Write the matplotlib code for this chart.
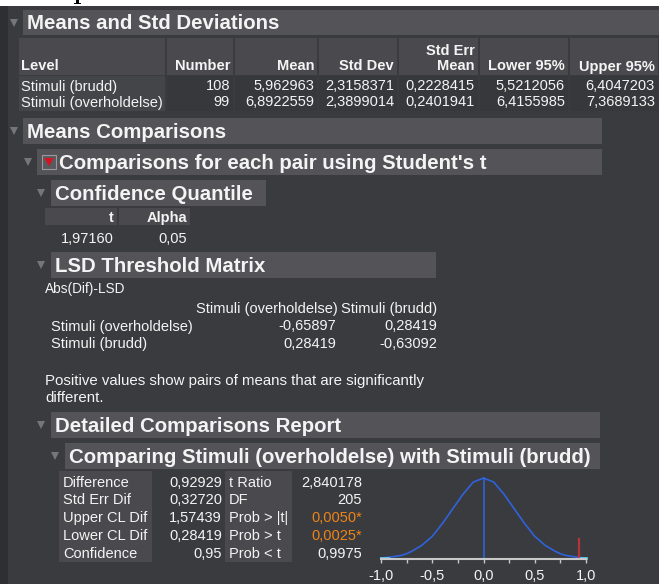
import matplotlib
matplotlib.use("Agg")
from matplotlib import pyplot as plt
from matplotlib.patches import Rectangle, Polygon

# ---- data ----
levels = ['Stimuli (brudd)', 'Stimuli (overholdelse)']
numbers = ['108', '99']
means = ['5,962963', '6,8922559']
std_devs = ['2,3158371', '2,3899014']
std_err_means = ['0,2228415', '0,2401941']
lower95 = ['5,5212056', '6,4155985']
upper95 = ['6,4047203', '7,3689133']

quantile_t = '1,97160'
alpha = '0,05'

lsd_levels = ['Stimuli (overholdelse)', 'Stimuli (brudd)']
lsd_matrix = [['-0,65897', '0,28419'],
              ['0,28419', '-0,63092']]

left_labels = ['Difference', 'Std Err Dif', 'Upper CL Dif', 'Lower CL Dif', 'Confidence']
left_values = ['0,92929', '0,32720', '1,57439', '0,28419', '0,95']
right_labels = ['t Ratio', 'DF', 'Prob > |t|', 'Prob > t', 'Prob < t']
right_values = ['2,840178', '205', '0,0050*', '0,0025*', '0,9975']
right_signif = [False, False, True, True, False]

difference = 0.92929
curve_x = [-1.0, -0.9, -0.8, -0.75, -0.7, -0.6, -0.5, -0.4, -0.3, -0.2, -0.1, 0.0,
           0.1, 0.2, 0.3, 0.4, 0.5, 0.6, 0.7, 0.75, 0.8, 0.9, 1.0]
curve_y = [0.01, 0.025, 0.045, 0.065, 0.095, 0.17, 0.28, 0.44, 0.62, 0.80, 0.95, 1.0,
           0.95, 0.80, 0.62, 0.44, 0.28, 0.17, 0.095, 0.065, 0.045, 0.025, 0.01]
diff_height = 0.25
tick_vals = [-1.0, -0.5, 0.0, 0.5, 1.0]
tick_labels = ['-1,0', '-0,5', '0,0', '0,5', '1,0']

# ---- colours ----
BG = '#3a3b3e'
STRIP = '#2e2f32'
BAR = '#545358'
HEAD = '#4a4a4e'
LABCELL = '#444549'
DATACELL = '#37383b'
WHITE = '#f4f4f4'
TRI = '#75767a'
ORANGE = '#ec8419'
FONT = 'Liberation Sans'
FS = 10.5      # body text
FS_H = 14.7    # outline headers

fig = plt.figure(figsize=(6.59, 5.84), dpi=100, facecolor=BG)
ax = fig.add_axes([0, 0, 1, 1])
ax.set_xlim(0, 659)
ax.set_ylim(584, 0)
ax.axis('off')


def rect(x0, y0, x1, y1, color):
    ax.add_patch(Rectangle((x0, y0), x1 - x0, y1 - y0, facecolor=color, edgecolor='none'))


def txt(x, y, s, size=FS, bold=False, ha='left', color=WHITE):
    ax.text(x, y, s, fontsize=size, fontweight='bold' if bold else 'normal',
            ha=ha, va='baseline', color=color, family=FONT)


def header(x0, x1, y0, y1, title, tri_x, text_x=None):
    rect(x0, y0, x1, y1, BAR)
    txt(text_x if text_x else x0 + 4, y1 - 6, title, size=FS_H, bold=True)
    ax.plot(tri_x, (y0 + y1) / 2, marker='v', markersize=5.5, color=TRI, markeredgewidth=0)


# white strip with the foot of a glyph from the page above
rect(0, 0, 659, 6, 'white')
ax.add_patch(Polygon([[76, 0], [79, 0], [79, 3], [81, 3], [81, 4.2], [73.5, 4.2], [73.5, 3], [76, 3]],
                     facecolor='black', edgecolor='none'))
rect(0, 6, 8, 584, STRIP)

# Means and Std Deviations
header(23, 659, 10, 35, 'Means and Std Deviations', 13.5)
col_edges = [18, 166, 234, 318, 398, 479, 569, 659]
for i in range(len(col_edges) - 1):
    rect(col_edges[i] + 1, 38, col_edges[i + 1] - 1, 75, HEAD)
    rect(col_edges[i] + 1, 76, col_edges[i + 1] - 1, 111, LABCELL if i == 0 else DATACELL)
txt(21, 70.5, 'Level', size=FS, bold=True)
col_heads = ['Number', 'Mean', 'Std Dev', 'Mean', 'Lower 95%', 'Upper 95%']
for i, h in enumerate(col_heads):
    txt(col_edges[i + 2] - 4, 70.5, h, size=FS, bold=True, ha='right')
txt(col_edges[5] - 4, 55, 'Std Err', size=FS, bold=True, ha='right')
cols = [numbers, means, std_devs, std_err_means, lower95, upper95]
for r, lev in enumerate(levels):
    yb = 90.5 + 16 * r
    txt(21, yb, lev)
    for i, c in enumerate(cols):
        txt(col_edges[i + 2] - 4, yb, c[r], ha='right')

# Means Comparisons
header(23, 602, 118, 144, 'Means Comparisons', 13.5)
header(37, 602, 149, 175, 'Comparisons for each pair using Student\'s t', 27.5, text_x=59)
ax.add_patch(Rectangle((42, 155), 14, 14, facecolor='#5a5a5e', edgecolor='#9a9a9e', linewidth=0.8))
ax.add_patch(Polygon([[44.5, 158], [53.5, 158], [49, 166]], facecolor='#d8121e', edgecolor='none'))

header(51, 266, 180, 206, 'Confidence Quantile', 41)
rect(45, 208, 117, 225, HEAD)
rect(119, 208, 190, 225, HEAD)
txt(114, 222, 't', bold=True, ha='right')
txt(187, 222, 'Alpha', bold=True, ha='right')
txt(114, 243, quantile_t, ha='right')
txt(187, 243, alpha, ha='right')

header(51, 436, 252, 278, 'LSD Threshold Matrix', 41)
txt(45, 293, 'Abs(Dif)-LSD', size=9.8)
txt(338, 313, lsd_levels[0], ha='right')
txt(437, 313, lsd_levels[1], ha='right')
for r, lev in enumerate(lsd_levels):
    yb = 330.5 + 17.5 * r
    txt(51, yb, lev)
    txt(336, yb, lsd_matrix[r][0], ha='right')
    txt(437, yb, lsd_matrix[r][1], ha='right')
txt(45, 385, 'Positive values show pairs of means that are significantly', size=10.8)
txt(45, 401.5, 'different.', size=10.8)

header(51, 600, 412, 438, 'Detailed Comparisons Report', 41)
header(65, 600, 443, 469, 'Comparing Stimuli (overholdelse) with Stimuli (brudd)', 55)
rect(59, 471, 152, 562, HEAD)
rect(225, 471, 292, 562, HEAD)
for r in range(len(left_labels)):
    yb = 486.7 + 17.75 * r
    txt(63, yb, left_labels[r])
    txt(222, yb, left_values[r], ha='right')
    txt(229, yb, right_labels[r])
    txt(362, yb, right_values[r], ha='right', color=ORANGE if right_signif[r] else WHITE)

# t distribution sketch
cax = fig.add_axes([381 / 659, 1 - 559 / 584, 205 / 659, 85 / 584])
cax.set_facecolor('none')
cax.plot(curve_x, curve_y, color='#2f63dc', linewidth=1.2, clip_on=False)
cax.plot([0, 0], [0, 1.0], color='#2f63dc', linewidth=1.2)
cax.plot([-1, -difference], [0.008, 0.008], color='#5cc8f2', linewidth=2, clip_on=False)
cax.plot([difference, 1], [0.008, 0.008], color='#5cc8f2', linewidth=2, clip_on=False)
cax.plot([difference, difference], [0, diff_height], color='#b8323c', linewidth=1.6)
cax.set_xlim(-1, 1)
cax.set_ylim(0, 1.05)
for s in ['top', 'left', 'right']:
    cax.spines[s].set_visible(False)
cax.spines['bottom'].set_color('#c8c8c8')
cax.spines['bottom'].set_linewidth(1.5)
cax.set_yticks([])
cax.set_xticks(tick_vals)
cax.set_xticklabels(tick_labels, family=FONT, fontsize=FS, color=WHITE)
cax.set_xticks([-0.75, -0.25, 0.25, 0.75], minor=True)
cax.tick_params(axis='x', which='both', length=3, width=1, color='#c8c8c8', pad=4.5)

fig.savefig('out.png', dpi=100, facecolor=BG)
